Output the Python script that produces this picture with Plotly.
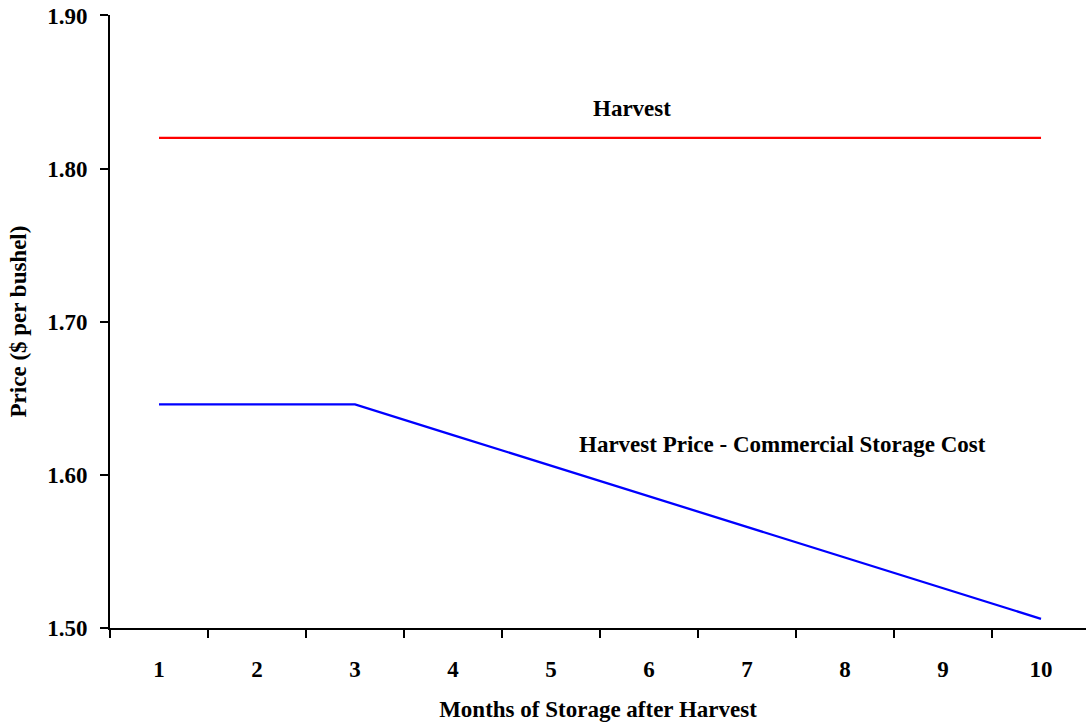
import plotly.graph_objects as go

months = [1, 2, 3, 4, 5, 6, 7, 8, 9, 10]
harvest_price = [1.82, 1.82, 1.82, 1.82, 1.82, 1.82, 1.82, 1.82, 1.82, 1.82]
net_price = [1.646, 1.646, 1.646, 1.626, 1.606, 1.586, 1.566, 1.546, 1.526, 1.506]
y_ticks = [1.50, 1.60, 1.70, 1.80, 1.90]
y_tick_labels = ["1.50", "1.60", "1.70", "1.80", "1.90"]

FONT = "Liberation Serif"
FS = 23

fig = go.Figure()
fig.add_trace(go.Scatter(x=months, y=harvest_price, mode="lines",
                         line=dict(color="#ff0000", width=2.3), name="Harvest"))
fig.add_trace(go.Scatter(x=months, y=net_price, mode="lines",
                         line=dict(color="#0000ff", width=2.3),
                         name="Harvest Price - Commercial Storage Cost"))

fig.add_annotation(x=5.83, y=1.839, text="<b>Harvest</b>", showarrow=False,
                   font=dict(family=FONT, size=FS, color="black"))
fig.add_annotation(x=7.357, y=1.620, text="<b>Harvest Price - Commercial Storage Cost</b>",
                   showarrow=False, font=dict(family=FONT, size=FS, color="black"))

fig.update_layout(
    width=1086, height=728,
    margin=dict(l=110, r=0, t=15, b=100),
    paper_bgcolor="white", plot_bgcolor="white",
    showlegend=False,
    font=dict(family=FONT, color="black"),
)
fig.update_xaxes(
    range=[0.5, 10.459], tickmode="array", tickvals=months,
    ticktext=[f"<b>{m}</b>" for m in months],
    showgrid=False, zeroline=False, showline=True, linecolor="black", linewidth=2,
    ticks="", tickfont=dict(family=FONT, size=FS),
    ticklabelstandoff=19,
    minor=dict(tickmode="array", tickvals=[m + 0.5 for m in [0] + months], ticks="outside",
               ticklen=8, tickwidth=2, tickcolor="black", showgrid=False),
    title=dict(text="<b>Months of Storage after Harvest</b>",
               font=dict(family=FONT, size=FS), standoff=20),
)
fig.update_yaxes(
    range=[1.50, 1.9003], tickmode="array", tickvals=y_ticks,
    ticktext=[f"<b>{t}</b>" for t in y_tick_labels],
    showgrid=False, zeroline=False, showline=True, linecolor="black", linewidth=2,
    ticks="outside", ticklen=8, tickwidth=2, tickcolor="black",
    tickfont=dict(family=FONT, size=FS), ticklabelstandoff=8,
    title=dict(text="<b>Price ($ per bushel)</b>", font=dict(family=FONT, size=FS), standoff=14),
)

fig.write_html("out.html", config={"displayModeBar": False},
               post_script="document.body.style.margin='0';")
